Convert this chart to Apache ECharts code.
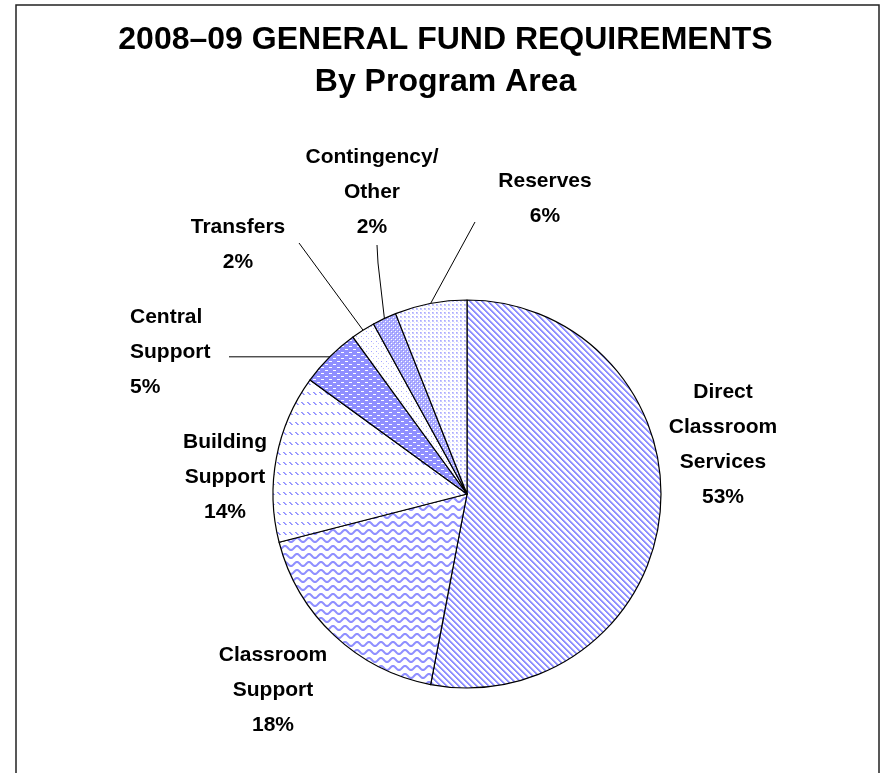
<!DOCTYPE html>
<html>
<head>
<meta charset="utf-8">
<script src="https://cdn.jsdelivr.net/npm/echarts@6/dist/echarts.min.js"></script>
<style>
  html, body { margin: 0; padding: 0; background: #ffffff; }
  #chart { width: 891px; height: 773px; }
</style>
</head>
<body>
<div id="chart"></div>
<script>
// Program areas, clockwise from 12 o'clock
const categories = [
  'Direct\nClassroom\nServices',
  'Classroom\nSupport',
  'Building\nSupport',
  'Central\nSupport',
  'Transfers',
  'Contingency/\nOther',
  'Reserves'
];
// Share of 2008–09 general fund requirements (%)
const shares = [53, 18, 14, 5, 2, 2, 6];

const titleLines = ['2008\u201309 GENERAL FUND REQUIREMENTS', 'By Program Area'];

// ---- layout (pixels) ----
const CENTER = [467, 494];
const RADIUS = 194;
const BLUE = '#8f8fff';

// label anchor points and leader-line bends for each slice
const labelAnchor = [
  { x: 723, y: 445, align: 'center' },
  { x: 273, y: 690, align: 'center' },
  { x: 225, y: 477, align: 'center' },
  { x: 130, y: 352, align: 'left' },
  { x: 238, y: 245, align: 'center' },
  { x: 372, y: 192, align: 'center' },
  { x: 545, y: 199, align: 'center' }
];
const leaderBends = [
  null,
  null,
  null,
  [[229, null]],
  [[299, 243]],
  [[378, 263], [377, 245]],
  [[475, 222]]
];

// ---- fill patterns drawn on small tiles ----
function tile(w, h, draw) {
  const c = document.createElement('canvas');
  c.width = w; c.height = h;
  const g = c.getContext('2d');
  g.fillStyle = '#ffffff';
  g.fillRect(0, 0, w, h);
  draw(g, w, h);
  return c;
}
function px(g, x, y, col) { g.fillStyle = col; g.fillRect(x, y, 1, 1); }

const patterns = [
  // diagonal stripes
  tile(6, 6, (g, w, h) => {
    for (let y = 0; y < h; y++) for (let x = 0; x < w; x++) {
      const m = ((x - y) % 6 + 6) % 6;
      if (m < 2) px(g, x, y, BLUE);
      else if (m === 2) px(g, x, y, '#c6c6ff');
    }
  }),
  // wavy lines
  tile(12, 8, (g, w, h) => {
    g.strokeStyle = BLUE; g.lineWidth = 2;
    g.beginPath();
    for (let x = -1; x <= w + 1; x += 0.5) {
      const y = 4 + 2 * Math.sin((x / w) * Math.PI * 2);
      if (x === -1) g.moveTo(x, y); else g.lineTo(x, y);
    }
    g.stroke();
  }),
  // rows of short diagonal dashes
  tile(6, 10, (g) => {
    for (let k = 0; k < 3; k++) {
      px(g, 1 + k, 2 + k, BLUE);
      px(g, 2 + k, 2 + k, '#a8a8ff');
    }
  }),
  // solid blue with white dashes
  tile(8, 6, (g) => {
    g.fillStyle = BLUE; g.fillRect(0, 0, 8, 6);
    g.fillStyle = '#ffffff';
    g.fillRect(1, 1, 3, 1);
    g.fillRect(5, 4, 3, 1);
  }),
  // sparse dots
  tile(5, 5, (g) => {
    px(g, 1, 1, '#a8a8ff');
    px(g, 3, 3, '#c8c8ff');
  }),
  // dense check
  tile(4, 4, (g) => {
    g.fillStyle = '#adadff'; g.fillRect(0, 0, 4, 4);
    px(g, 1, 1, '#ffffff'); px(g, 3, 3, '#ffffff');
    px(g, 0, 0, BLUE); px(g, 2, 2, BLUE);
  }),
  // light dotted grid
  tile(4, 4, (g) => {
    g.fillStyle = '#c8c8ff';
    g.fillRect(0, 0, 2, 2);
    px(g, 0, 0, '#aaaaff');
    px(g, 2, 2, '#e0e0ff');
  })
];

// point on the rim at the middle of a slice
const total = shares.reduce((a, b) => a + b, 0);
function rimPoint(i) {
  let before = 0;
  for (let k = 0; k < i; k++) before += shares[k];
  const a = ((before + shares[i] / 2) / total) * Math.PI * 2;
  return [CENTER[0] + RADIUS * Math.sin(a), CENTER[1] - RADIUS * Math.cos(a)];
}

const data = categories.map((name, i) => ({
  name: name,
  value: shares[i],
  itemStyle: { color: { image: patterns[i], repeat: 'repeat' } },
  labelLine: { show: leaderBends[i] !== null }
}));

const FONT = 'Liberation Sans, Arial, sans-serif';

const chart = echarts.init(document.getElementById('chart'), null, { renderer: 'canvas' });
chart.setOption({
  backgroundColor: '#ffffff',
  animation: false,
  title: {
    text: titleLines.join('\n'),
    left: 'center',
    top: 14,
    textStyle: {
      fontFamily: FONT,
      fontWeight: 'bold',
      fontSize: 32,
      lineHeight: 42,
      color: '#000000'
    }
  },
  graphic: [{
    type: 'rect',
    shape: { x: 16, y: 5, width: 863, height: 820 },
    style: { fill: null, stroke: '#222222', lineWidth: 1.5 },
    silent: true
  }],
  series: [{
    type: 'pie',
    center: CENTER,
    radius: RADIUS,
    startAngle: 90,
    clockwise: true,
    avoidLabelOverlap: false,
    data: data,
    itemStyle: { borderColor: '#000000', borderWidth: 1.2 },
    label: {
      show: true,
      position: 'outside',
      formatter: (p) => p.name + '\n' + p.value + '%',
      fontFamily: FONT,
      fontWeight: 'bold',
      fontSize: 21,
      lineHeight: 35,
      color: '#000000'
    },
    labelLine: {
      lineStyle: { color: '#000000', width: 1 }
    },
    labelLayout: (params) => {
      const i = params.dataIndex;
      const a = labelAnchor[i];
      const out = { x: a.x, y: a.y, align: a.align, verticalAlign: 'middle' };
      if (leaderBends[i]) {
        const start = rimPoint(i);
        const pts = [start];
        leaderBends[i].forEach((b) => pts.push([b[0], b[1] === null ? start[1] : b[1]]));
        out.labelLinePoints = pts;
      }
      return out;
    },
    emphasis: { disabled: true }
  }]
});
</script>
</body>
</html>
